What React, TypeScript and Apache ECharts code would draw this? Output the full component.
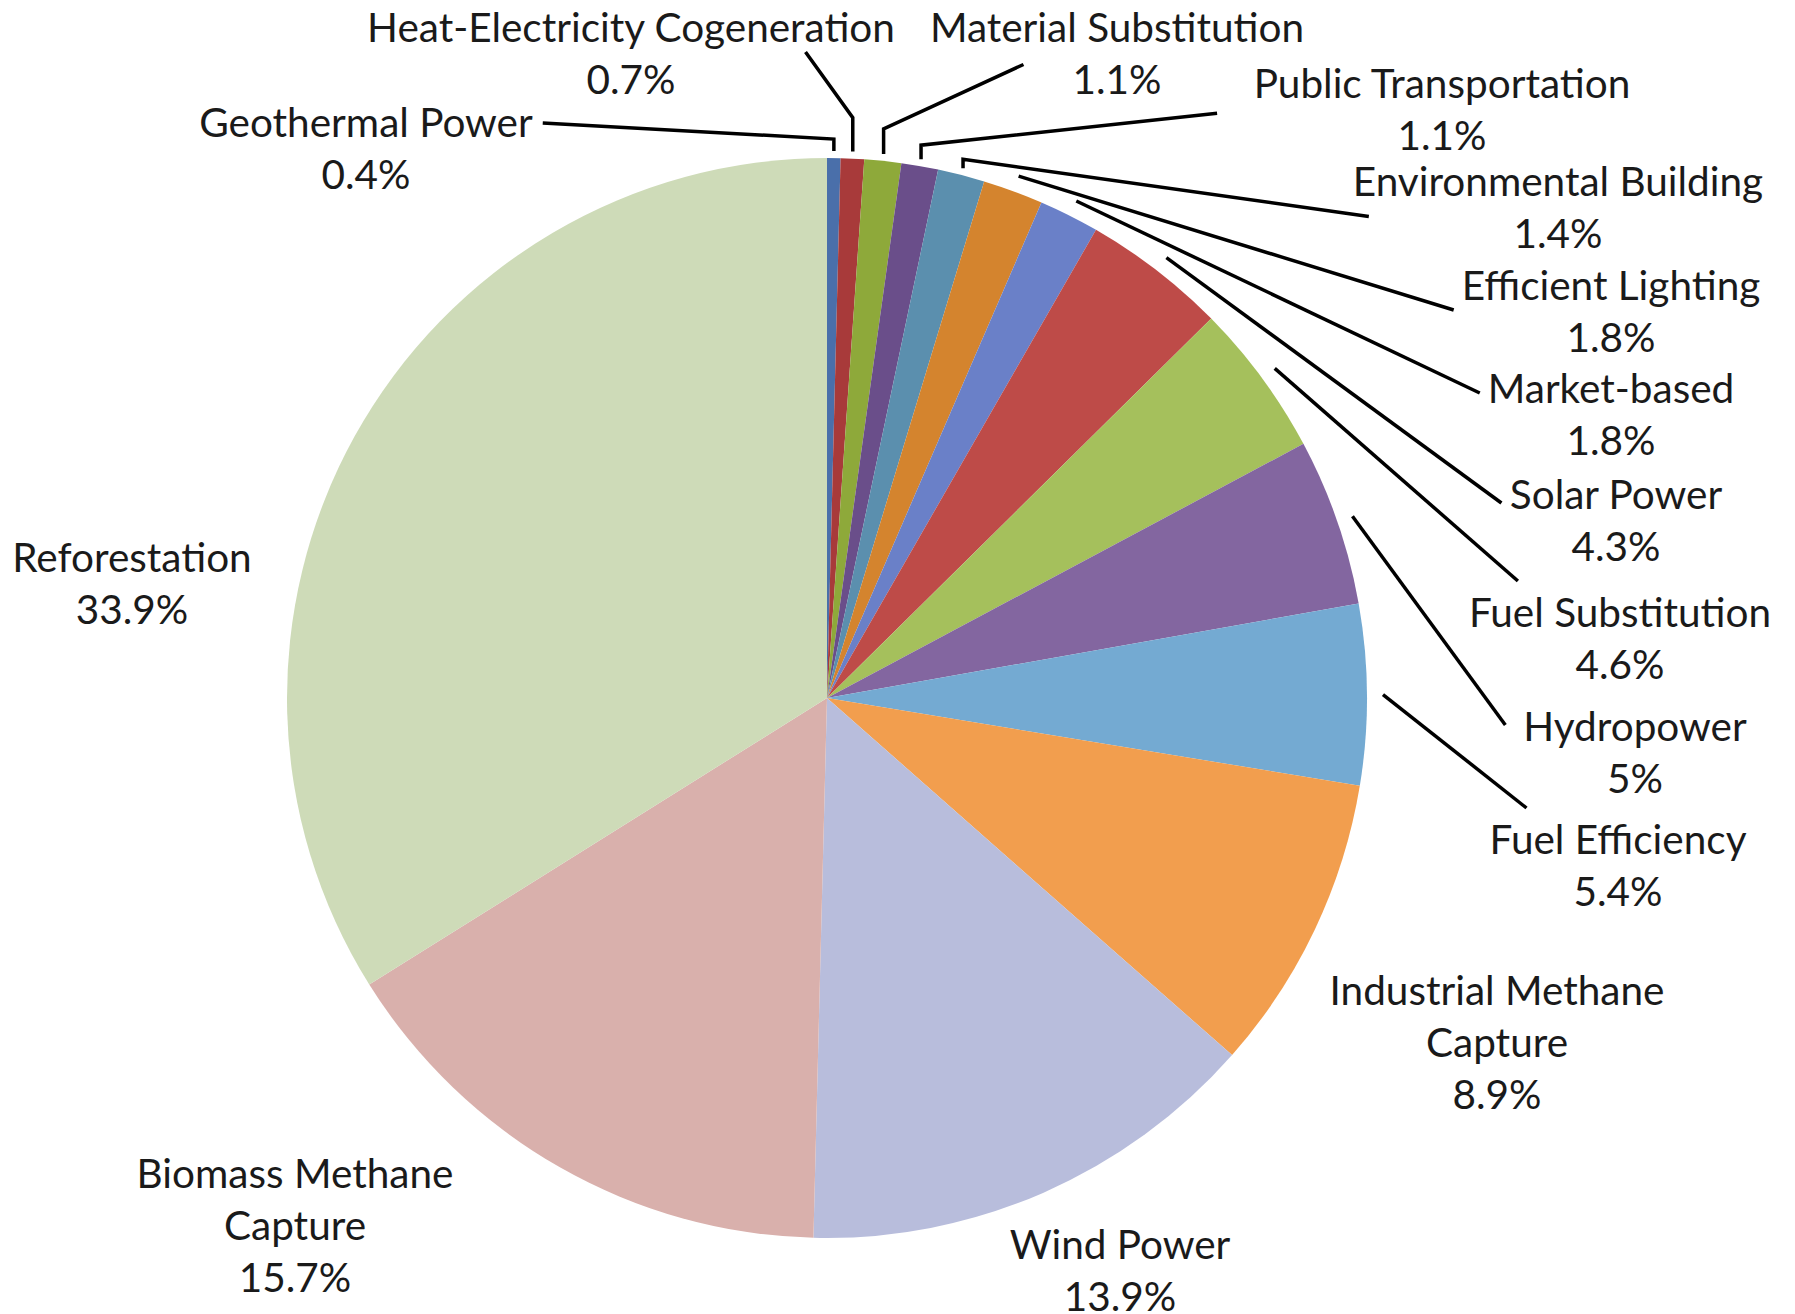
import React, { useEffect, useRef } from "react";
import * as echarts from "echarts";

const categories = [
  "Geothermal Power",
  "Heat-Electricity Cogeneration",
  "Material Substitution",
  "Public Transportation",
  "Environmental Building",
  "Efficient Lighting",
  "Market-based",
  "Solar Power",
  "Fuel Substitution",
  "Hydropower",
  "Fuel Efficiency",
  "Industrial Methane Capture",
  "Wind Power",
  "Biomass Methane Capture",
  "Reforestation",
];

const shares = [0.4, 0.7, 1.1, 1.1, 1.4, 1.8, 1.8, 4.3, 4.6, 5, 5.4, 8.9, 13.9, 15.7, 33.9];

const colors = [
  "#4A6FAA",
  "#A83A3A",
  "#8EA93A",
  "#6A4E8A",
  "#5B8FAE",
  "#D4842E",
  "#6A80C8",
  "#BE4B48",
  "#A5C05C",
  "#8366A0",
  "#74AAD2",
  "#F29E4E",
  "#B8BDDC",
  "#D9B0AC",
  "#CEDBB8",
];

// label block centres (layout only)
const labelPos: [number, number][] = [
  [366, 147],
  [631, 52],
  [1117, 52],
  [1442, 108],
  [1558, 206],
  [1611, 310],
  [1611, 413],
  [1616, 519],
  [1620, 637],
  [1635, 751],
  [1618, 864],
  [1497, 1041],
  [1120, 1269],
  [295, 1224],
  [132, 582],
];

// leader-line styling: end point on label box as [fracX, fracY, dx, dy]
const lineEnd: [number, number, number, number][] = [
  [1, 0.27, 10, 0],
  [0.83, 0.5, 0, 0],
  [0.25, 0.62, 0, 0],
  [0, 0.55, -36, 0],
  [0, 0.6, 16, 0],
  [0, 0.5, -8, 0],
  [0, 0.25, -8, 6],
  [0, 0.25, -8, 10],
  [0, 0, 49, -4],
  [0, 0.25, -18, 0],
  [0, 0, 37, -4],
];
// vertical elbow length near the pie for the top slices
const elbowLen = [12, 34, 25, 14, 9];

const noLine = new Set([11, 12, 13, 14]);

export default function App() {
  const ref = useRef<HTMLDivElement>(null);
  useEffect(() => {
    document.body.style.margin = "0";
    const chart = echarts.init(ref.current!, null, { renderer: "svg" });
    chart.setOption({
      animation: false,
      backgroundColor: "#ffffff",
      series: [
        {
          type: "pie",
          center: [827, 698],
          radius: 540,
          startAngle: 90,
          clockwise: true,
          avoidLabelOverlap: false,
          data: categories.map((name, i) => ({
            name,
            value: shares[i],
            itemStyle: { color: colors[i] },
            labelLine: { show: !noLine.has(i) },
          })),
          label: {
            show: true,
            position: "outside",
            fontFamily: "Lato",
            fontSize: 40.5,
            lineHeight: 52,
            color: "#1a1a1a",
            align: "center",
            formatter: (p: any) =>
              p.name.replace(/ Methane Capture$/, " Methane\nCapture") + "\n" + p.value + "%",
          },
          labelLine: {
            show: true,
            length: 10,
            length2: 10,
            lineStyle: { color: "#000000", width: 3.5 },
          },
          labelLayout: (params: any) => {
            const i = params.dataIndex;
            const pos = labelPos[i];
            const out: any = {
              x: pos[0],
              y: pos[1],
              align: "center",
              verticalAlign: "middle",
            };
            const pts = params.labelLinePoints;
            if (!noLine.has(i) && pts && pts.length >= 2 && params.labelRect) {
              const a = pts[0];
              const b = pts[1];
              let dx = b[0] - a[0];
              let dy = b[1] - a[1];
              const len = Math.hypot(dx, dy) || 1;
              dx /= len;
              dy /= len;
              const gap = i <= 4 ? 7 : 16;
              const start = [a[0] + dx * gap, a[1] + dy * gap];
              const w = params.labelRect.width;
              const h = params.labelRect.height;
              const left = pos[0] - w / 2;
              const top = pos[1] - h / 2;
              const e = lineEnd[i];
              const end = [left + e[0] * w + e[2], top + e[1] * h + e[3]];
              const elbow =
                i <= 4 ? [start[0], start[1] - elbowLen[i]] : [start[0], start[1]];
              out.labelLinePoints = [start, elbow, end];
            }
            return out;
          },
        },
      ],
    });
    return () => chart.dispose();
  }, []);
  return <div ref={ref} style={{ width: 1795, height: 1314 }} />;
}
